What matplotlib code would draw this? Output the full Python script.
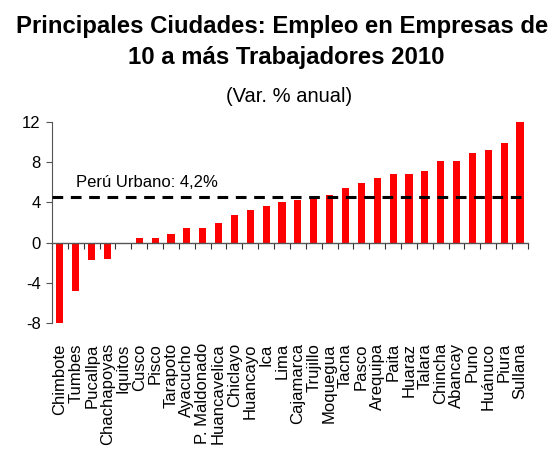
import matplotlib
matplotlib.use("Agg")
import matplotlib.pyplot as plt
import matplotlib.transforms as mtransforms
import numpy as np

ciudades = ["Chimbote", "Tumbes", "Pucallpa", "Chachapoyas", "Iquitos", "Cusco", "Pisco",
            "Tarapoto", "Ayacucho", "P. Maldonado", "Huancavelica", "Chiclayo", "Huancayo",
            "Ica", "Lima", "Cajamarca", "Trujillo", "Moquegua", "Tacna", "Pasco", "Arequipa",
            "Paita", "Huaraz", "Talara", "Chincha", "Abancay", "Puno", "Huánuco", "Piura", "Sullana"]
variacion = [-8.0, -4.8, -1.7, -1.6, -0.1, 0.5, 0.5, 0.9, 1.5, 1.5, 2.0, 2.7, 3.2, 3.6, 4.0,
             4.2, 4.5, 4.7, 5.4, 5.9, 6.4, 6.8, 6.8, 7.1, 8.1, 8.1, 8.9, 9.2, 9.9, 12.0]
peru_urbano = 4.5
peru_label = "Perú Urbano: 4,2%"
yticks = [-8, -4, 0, 4, 8, 12]

plt.rcParams['font.family'] = ['Liberation Sans', 'DejaVu Sans']

fig = plt.figure(figsize=(5.56, 4.5), dpi=100)
ax = fig.add_axes([0.0935, 0.282, 0.856, 0.447])

x = np.arange(len(ciudades))
ax.bar(x, variacion, width=0.45, color="#ff0000", zorder=2)
ax.plot([-0.5, len(ciudades) - 0.5], [peru_urbano, peru_urbano], color="black",
        lw=2.2, ls=(0, (3.5, 2.5)), zorder=3)
ax.text(1.0, peru_urbano + 0.75, peru_label, fontsize=12, ha="left", va="bottom")

ax.set_xlim(-0.5, len(ciudades) - 0.5)
ax.set_ylim(-8, 12)
ax.set_yticks(yticks)
ax.set_yticklabels([str(v) for v in yticks], fontsize=12)
ax.tick_params(axis="y", direction="out", length=4, color="#555555", pad=4)

for s in ["top", "right"]:
    ax.spines[s].set_visible(False)
ax.spines["left"].set_color("#555555")
ax.spines["bottom"].set_position(("data", 0))
ax.spines["bottom"].set_color("#555555")
ax.spines["bottom"].set_linewidth(1.0)
ax.set_xticks(np.arange(-0.5, len(ciudades), 1.0))
ax.set_xticklabels([])
ax.tick_params(axis="x", direction="out", length=4, color="#333333")

trans = mtransforms.blended_transform_factory(ax.transData, ax.transAxes)
for xi, name in zip(x, ciudades):
    ax.text(xi, -0.1, name, rotation=90, ha="center", va="top", fontsize=12,
            transform=trans)

fig.text(0.508, 0.942, "Principales Ciudades: Empleo en Empresas de", ha="center",
         va="center", fontsize=17.2, fontweight="bold")
fig.text(0.515, 0.873, "10 a más Trabajadores 2010", ha="center",
         va="center", fontsize=17.2, fontweight="bold")
fig.text(0.52, 0.785, "(Var. % anual)", ha="center", va="center", fontsize=14.5)

fig.savefig("out.png", dpi=100)
